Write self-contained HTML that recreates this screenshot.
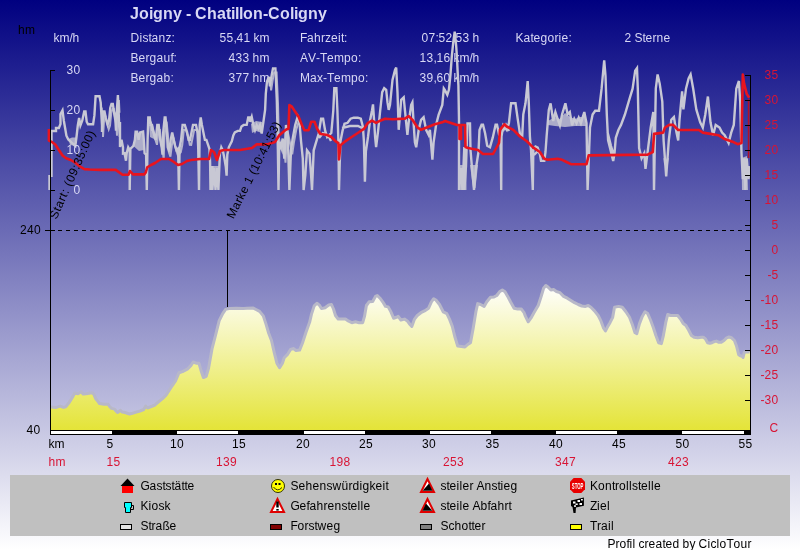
<!DOCTYPE html>
<html><head><meta charset="utf-8"><title>Joigny - Chatillon-Coligny</title>
<style>
html,body{margin:0;padding:0;width:800px;height:550px;overflow:hidden;background:#fff}
svg{display:block;will-change:transform}
text{font-family:"Liberation Sans",sans-serif;font-size:12px;font-kerning:none}
.w{fill:#d8d8f4}
.k{fill:#000}
.r{fill:#d81434}
</style></head><body>
<svg width="800" height="550" viewBox="0 0 800 550">
<defs>
<linearGradient id="bg" x1="0" y1="0" x2="0" y2="1">
<stop offset="0" stop-color="#000080"/>
<stop offset="1" stop-color="#ffffff"/>
</linearGradient>
<linearGradient id="yl" gradientUnits="userSpaceOnUse" x1="0" y1="285" x2="0" y2="430">
<stop offset="0" stop-color="#ffffff"/>
<stop offset="1" stop-color="#e4e438"/>
</linearGradient>
</defs>
<rect x="0" y="0" width="800" height="550" fill="url(#bg)"/>

<!-- header text -->
<text x="130 139 149 153 163 173 182 186 191 195 207 217 226 231 235 239 243 253 263 268 280 290 294 298 308 318" y="19" class="w" style="font-size:16px;font-weight:bold">Joigny - Chatillon-Coligny</text>
<text x="18 25" y="34" class="k">hm</text>
<text x="53.5 59.5 69.5 72.5" y="42" class="w">km/h</text>
<text x="130.5 139.5 142.5 148.5 151.5 158.5 165.5 171.5" y="42" class="w">Distanz:</text>
<text x="130.5 138.5 145.5 149.5 156.5 163.5 170.5 173.5" y="62" class="w">Bergauf:</text>
<text x="130.5 138.5 145.5 149.5 156.5 163.5 170.5" y="82" class="w">Bergab:</text>
<text x="219.5 226.5 233.5 236.5 243.5 250.5 253.5 259.5" y="42" class="w">55,41 km</text>
<text x="228.5 235.5 242.5 249.5 252.5 259.5" y="62" class="w">433 hm</text>
<text x="228.5 235.5 242.5 249.5 252.5 259.5" y="82" class="w">377 hm</text>
<text x="300 307 314 321 325 331 338 341 344" y="42" class="w">Fahrzeit:</text>
<text x="300 308 316 320 327 334 344 351 358" y="62" class="w">AV-Tempo:</text>
<text x="300 310 317 323 327 334 341 351 358 365" y="82" class="w">Max-Tempo:</text>
<text x="421.5 428.5 435.5 438.5 445.5 452.5 455.5 462.5 469.5 472.5" y="42" class="w">07:52:53 h</text>
<text x="419.5 426.5 433.5 436.5 443.5 450.5 453.5 459.5 469.5 472.5" y="62" class="w">13,16 km/h</text>
<text x="419.5 426.5 433.5 436.5 443.5 450.5 453.5 459.5 469.5 472.5" y="82" class="w">39,60 km/h</text>
<text x="515.5 523.5 530.5 533.5 540.5 547.5 554.5 558.5 561.5 568.5" y="42" class="w">Kategorie:</text>
<text x="624.5 631.5 634.5 642.5 645.5 652.5 656.5 663.5" y="42" class="w">2 Sterne</text>

<!-- CHART -->
<g id="chart">
<path d="M51,430 L51,407 51,407 56.4,407.4 60.2,406.1 63.4,407.4 65.9,406.7 69.1,402.6 72.3,397.5 74.8,393 78,393.7 81.2,391.8 83.1,394 86.3,393.7 92,392.7 93.9,394.3 95.8,398.8 98.3,401.9 99.5,403.5 104,404.25 108.1,404.25 109.6,406.5 111.5,408.4 114.5,409.1 116,411 117.5,412.5 120.5,410.25 122,412.1 125,412.5 127.25,413.25 129.5,414 132.5,413.25 136.25,412.1 140,411 143.75,409.5 145.6,406.1 147.5,408 151.25,406.5 155,405 156.5,403.5 162.5,398.7 166,395.2 170.7,388 175.5,381 179,372.7 182.5,371.6 187.3,369.2 190.8,365.6 193.2,362 196.7,363.3 199,363.3 201,370.4 203.4,377.5 206.2,376.3 208.6,368 212,349 215.6,335 219.2,320.7 222.7,313.6 225.6,309.4 229.8,308.4 236,308.3 243.3,308.6 246.9,308.3 253.3,308.1 256,309.5 259.6,311.4 263.3,315.9 266,324.1 268.7,333.2 271.5,340.5 274.2,352.3 276.9,363.2 279.6,367.7 282.4,363.2 284.2,357.7 287.8,354.1 290.5,349.5 293.3,348.6 296,350.5 299.6,350.1 302.4,343.2 306,332.3 309.6,322.3 311.5,314.1 314.2,305.9 316.9,303.2 319.6,305.4 321.5,308.6 325.1,307.7 328.7,305 331.5,304.6 333.5,309 335.5,315.5 338.2,319.1 341.8,319.1 345.5,319.1 348.2,320.9 351.8,322.7 355.5,321.8 359.1,322.7 362.7,322.7 364.5,316.4 366.4,305.5 369.1,301.8 372.7,301.5 375.5,296.4 377.3,295.5 380,298.2 382.7,301.8 385.5,306.4 388.2,306.9 390.9,311.8 393.6,318.2 396.4,317.3 398.2,316.4 400.9,320 404.5,319.1 407.3,320.9 410,324.5 411.8,326.4 414.5,319.1 417.3,315.5 420.9,312.7 424.5,310.9 428.6,308.2 431.4,301.8 433.7,298.7 435.9,300 439.5,304.5 443.2,311.8 446.8,313.6 449.5,319.1 452.3,326.4 455,337.3 457.7,346 461.4,346.4 465,346.9 467.7,344.5 470.5,342.7 473.2,328.2 475.9,311.8 477.7,303.6 480.5,304.5 484.1,306.4 486.8,301.8 490.5,297.3 494.1,296.9 496.8,295.5 499.5,291.8 502.3,290 505,291.8 507.7,296.4 510.5,301.8 514.1,308.2 517.7,309.1 521.4,309.1 524.1,312.7 525.5,316.4 528.2,321.8 530.9,318.2 534.5,311.8 538.2,305.5 540.9,297.3 543.6,288.2 545.8,285.5 548.2,287.3 550.9,290 553.6,289.6 556.4,291.5 560,292.7 563.6,296.4 567.3,298.2 570.9,300.5 574.5,302.7 578.2,304.5 581.8,306 585.5,306.4 588.2,305.5 590.9,307.3 594.5,310.9 598.2,315.5 600.9,320.9 603.6,328.2 605.5,330.9 607.3,327.3 610,322.7 612.7,317.3 614.5,307.3 618.6,306.4 622.3,307.3 625.9,311.8 629.5,317.3 632.3,324.5 635,332.7 636.8,333.6 639.5,323.6 642.3,316.4 645,311.8 647.7,313.6 650.5,320 653.2,327.3 655.9,335.5 658.6,342.7 661.4,343.6 663.2,336.4 665.9,321.8 667.7,314.5 670.5,315.5 677.7,315.5 680.5,319.1 683.2,323.6 685.9,325.5 688.6,330 691.4,335.5 694.1,337.3 697.7,337.8 701.4,337.3 703.3,337.3 705.5,338.9 707.6,342.7 709.8,343.3 712,342.7 714.2,341.6 716.4,341.1 718.5,342.2 721.3,342.2 724,340.5 726.7,337.8 728.9,337 731.6,337.8 734.4,340.5 736.5,346 738.7,354.7 740.3,355.8 742,356.3 743.1,357.4 744.2,352.5 745.8,352 749.5,352 L750,352 L750,430 Z" fill="url(#yl)"/>
<path d="M51,407 56.4,407.4 60.2,406.1 63.4,407.4 65.9,406.7 69.1,402.6 72.3,397.5 74.8,393 78,393.7 81.2,391.8 83.1,394 86.3,393.7 92,392.7 93.9,394.3 95.8,398.8 98.3,401.9 99.5,403.5 104,404.25 108.1,404.25 109.6,406.5 111.5,408.4 114.5,409.1 116,411 117.5,412.5 120.5,410.25 122,412.1 125,412.5 127.25,413.25 129.5,414 132.5,413.25 136.25,412.1 140,411 143.75,409.5 145.6,406.1 147.5,408 151.25,406.5 155,405 156.5,403.5 162.5,398.7 166,395.2 170.7,388 175.5,381 179,372.7 182.5,371.6 187.3,369.2 190.8,365.6 193.2,362 196.7,363.3 199,363.3 201,370.4 203.4,377.5 206.2,376.3 208.6,368 212,349 215.6,335 219.2,320.7 222.7,313.6 225.6,309.4 229.8,308.4 236,308.3 243.3,308.6 246.9,308.3 253.3,308.1 256,309.5 259.6,311.4 263.3,315.9 266,324.1 268.7,333.2 271.5,340.5 274.2,352.3 276.9,363.2 279.6,367.7 282.4,363.2 284.2,357.7 287.8,354.1 290.5,349.5 293.3,348.6 296,350.5 299.6,350.1 302.4,343.2 306,332.3 309.6,322.3 311.5,314.1 314.2,305.9 316.9,303.2 319.6,305.4 321.5,308.6 325.1,307.7 328.7,305 331.5,304.6 333.5,309 335.5,315.5 338.2,319.1 341.8,319.1 345.5,319.1 348.2,320.9 351.8,322.7 355.5,321.8 359.1,322.7 362.7,322.7 364.5,316.4 366.4,305.5 369.1,301.8 372.7,301.5 375.5,296.4 377.3,295.5 380,298.2 382.7,301.8 385.5,306.4 388.2,306.9 390.9,311.8 393.6,318.2 396.4,317.3 398.2,316.4 400.9,320 404.5,319.1 407.3,320.9 410,324.5 411.8,326.4 414.5,319.1 417.3,315.5 420.9,312.7 424.5,310.9 428.6,308.2 431.4,301.8 433.7,298.7 435.9,300 439.5,304.5 443.2,311.8 446.8,313.6 449.5,319.1 452.3,326.4 455,337.3 457.7,346 461.4,346.4 465,346.9 467.7,344.5 470.5,342.7 473.2,328.2 475.9,311.8 477.7,303.6 480.5,304.5 484.1,306.4 486.8,301.8 490.5,297.3 494.1,296.9 496.8,295.5 499.5,291.8 502.3,290 505,291.8 507.7,296.4 510.5,301.8 514.1,308.2 517.7,309.1 521.4,309.1 524.1,312.7 525.5,316.4 528.2,321.8 530.9,318.2 534.5,311.8 538.2,305.5 540.9,297.3 543.6,288.2 545.8,285.5 548.2,287.3 550.9,290 553.6,289.6 556.4,291.5 560,292.7 563.6,296.4 567.3,298.2 570.9,300.5 574.5,302.7 578.2,304.5 581.8,306 585.5,306.4 588.2,305.5 590.9,307.3 594.5,310.9 598.2,315.5 600.9,320.9 603.6,328.2 605.5,330.9 607.3,327.3 610,322.7 612.7,317.3 614.5,307.3 618.6,306.4 622.3,307.3 625.9,311.8 629.5,317.3 632.3,324.5 635,332.7 636.8,333.6 639.5,323.6 642.3,316.4 645,311.8 647.7,313.6 650.5,320 653.2,327.3 655.9,335.5 658.6,342.7 661.4,343.6 663.2,336.4 665.9,321.8 667.7,314.5 670.5,315.5 677.7,315.5 680.5,319.1 683.2,323.6 685.9,325.5 688.6,330 691.4,335.5 694.1,337.3 697.7,337.8 701.4,337.3 703.3,337.3 705.5,338.9 707.6,342.7 709.8,343.3 712,342.7 714.2,341.6 716.4,341.1 718.5,342.2 721.3,342.2 724,340.5 726.7,337.8 728.9,337 731.6,337.8 734.4,340.5 736.5,346 738.7,354.7 740.3,355.8 742,356.3 743.1,357.4 744.2,352.5 745.8,352 749.5,352" fill="none" stroke="#b8b8c8" stroke-width="3" stroke-linejoin="round"/>
<path d="M68.5,139 L72,137.5 76.5,137.5 76,146 70,145 Z M133.5,146 L135,134 143,132.5 144,150 139,151 Z M149,125 L153,125 156,140 150,137 Z M211.5,166 H220 V178 H211.5 Z M251,124 L256,121 262,122 262,133 256,131 252,133 Z M459.5,165 H466.5 V190 H459.5 Z M470,165 L478,165 L475.5,188 L473,188 Z M548,121 L555,117 560,119 565,113 570,117 575,119 580,117 585,117 586,126 575,126 565,127 555,126 548,125 Z M741.5,158 L747,156 748,190 742,190 Z" fill="#c8c8d4" fill-opacity="0.8"/>
<path d="M149.5,122.5 151.0,122.5 151.8,129.9 153.2,129.9 154.7,137.4 157.0,144.8 158.5,129.9 159.9,129.9 161.4,144.8 162.9,152.3 163.7,159.7 164.4,137.4 165.9,122.5 166.7,122.5 168.1,137.4 168.9,152.3 170.4,156.7 171.9,144.8 173.4,137.4 174.9,144.8 176.3,150.8 177.8,155.2 179.3,153.7 180.8,152.3 182.3,144.8 183.8,129.9 186.0,129.9 188.3,137.4 189.8,144.8 191.2,144.9 192.7,137.4 194.2,129.9 197.2,129.9 198.7,137.4 M101.7,107.6 103.0,130.5 103.0,137.0 104.3,116.5 105.5,116.5 106.8,123.0 108.7,129.3 110.0,125.5 111.3,112.7 112.5,108.9 113.8,108.9 115.1,117.8 116.4,125.5 117.0,135.6 117.6,119.0 118.9,100.0 119.5,112.7 M270.1,80.8 271.1,90.4 273.0,78.4 274.2,72.4 276.6,72.4 278.0,104.0 278.8,137.5 280.5,145.9 282.2,150.9 283.9,142.5 285.5,162.6 287.2,129.1 288.9,137.5 292.2,154.3 293.9,142.5 296.4,129.1 298.9,120.8 300.6,125.8" fill="none" stroke="#c8c8d4" stroke-width="2" stroke-opacity="0.85" stroke-linejoin="miter"/>
<path d="M49.5,190 V175 M51.5,177 V131 H56 V128 L58.9,128 60.5,124 60.5,114 62.5,110.3 63.8,120.5 65.1,128 66.4,135.7 68.3,139.5 70,141 72,143 75.3,146 76.5,137 77.8,125.5 79.1,118 80.4,125.5 82.3,120.5 84.2,111.5 85.5,111.5 86.7,121.7 88,124.3 93.1,124.3 94.4,115.4 95.6,96.3 99.5,96.3 100.7,102.6 102,125.5 102,132 103.3,111.5 104.5,111.5 105.8,118 107.7,124.3 109,120.5 110.3,107.7 111.5,103.9 112.8,103.9 114.1,112.8 115.4,120.5 116,130.6 116.6,114 117.9,95 118.5,107.7 119.2,126.8 119.8,137 120,122 120,147 121.5,139.8 123,147.3 123,153.5 124.5,153.2 126,160.7 126.7,153.2 128.2,147.3 129.7,150 129.7,190 130.4,148.7 131.9,147.3 133.4,145.8 134.9,139.8 135.6,131.6 137.1,131.6 138.6,139.8 140.1,132.4 143.1,131.6 143.8,139.8 144.6,153.2 146.1,154.7 146.8,190 147.6,139.8 148.3,117.5 149.8,117.5 150.6,124.9 152,124.9 153.5,132.4 155.8,139.8 157.3,124.9 158.7,124.9 160.2,139.8 161.7,147.3 162.5,154.7 163.2,132.4 164.7,117.5 165.5,117.5 166.9,132.4 167.7,147.3 169.2,151.7 170.7,139.8 172.2,132.4 173.7,139.8 175.1,145.8 176.6,150.2 178.1,148.7 178.9,190 179.6,147.3 181.1,139.8 182.6,124.9 184.8,124.9 187.1,132.4 188.6,139.8 190,139.9 191.5,132.4 193,124.9 196,124.9 197.5,132.4 198.2,147.3 199,190 199.7,124.9 200.7,117.5 201.9,124.9 203.4,132.4 204.9,139.9 206.4,139.9 207.9,144.3 209.4,148.8 210.1,162.2 210.5,190 212.4,166 212.4,190 214,168 215.5,190 217,168 218.4,190 219.9,153.3 221.3,147.3 222.8,150.3 224.3,157.8 225.8,166.7 226.6,175.7 227.3,154.8 228.8,147.3 230.3,144.3 231.8,141.3 233.3,135.4 234.8,132.4 237.8,130.9 240,130.9 241.5,126.4 243.7,124.9 246.7,124.9 248.2,117.5 250,117.5 250,121.8 251.7,116.8 253.4,125.1 255,130.2 256.7,125.1 258.4,128.5 260,125.1 261.7,133.5 263.4,121.8 265.1,110 265.8,93.6 267,81.6 268.9,76.8 269.9,86.4 271.8,74.4 273,68.4 275.4,68.4 276.8,100 277.6,133.5 278.5,190 279.3,141.9 281,146.9 282.7,138.5 284.3,158.6 286,125.1 287.7,133.5 289.4,190 291,150.3 292.7,138.5 295.2,125.1 297.7,116.8 299.4,121.8 301.1,141.9 302.8,158.6 303.6,190 305.3,175.4 307,150.3 309.5,153.6 311.1,175.4 312,190 313.7,150.3 316.2,141.9 318.7,133.5 321.1,118.7 323.1,118.7 325.2,130.9 327.2,137 329.3,135 331.3,133 333.3,110.5 334.3,88.1 336.4,88.1 337.4,110.5 338.4,141.1 339,190 339.8,161.5 340.5,141.1 342.5,130.9 344.5,123.8 347.6,122.8 350.6,118.7 353.7,117.7 357.8,117.7 360.8,118.7 362.9,126.8 363.9,141.1 364.9,181.8 365.9,151.3 368,137 370,120.7 372,110.5 373,104.4 374.1,120.7 375.1,137 376.1,147.2 378.1,130.9 380.2,110.5 382.2,92.2 384.2,88.1 386.2,89.9 387.5,102.4 388.7,109.9 390,104.9 392.5,79.9 395,70 396.2,67.5 397.5,92.4 398.7,129.8 401.2,99.9 403.7,97.4 404.9,109.9 407.4,134.8 408.7,122.3 411.2,104.9 412.4,102.4 413.7,124.8 414.9,142.3 416.2,147.3 418.7,129.8 421.1,119.8 423.6,117.3 426.1,129.8 428.6,134.8 429.9,129.8 432.4,159.7 433.6,142.3 436.1,124.8 438.6,114.9 442.3,104.9 443.8,88.4 444.8,89.9 447.3,94.9 448.9,89.8 450.4,75.3 451.8,56.4 453.3,41.8 454.7,31.6 455.5,38.9 456.2,46.2 456.9,56.4 457.6,70.9 458.4,85.5 459,120 459,190 461,168 462.5,190 464.3,147 464.3,190 466,166 467.5,123.4 470,123.4 470.5,150 472,168 474,190 476,168 478.5,152 479.5,130 481.6,124.8 483,124.8 485.1,133.2 487.2,145.8 490,147.2 492.8,137.4 495.6,124.8 497,124.8 499.1,134.6 500.5,136 501.2,190 501.5,136.5 503.3,125.4 506.7,129.9 508.9,123.2 511.1,103.3 515.5,103.3 517.7,118.8 520,134.3 522.2,136.5 523.3,114.3 525.5,103.3 527.7,81.1 528.8,103.3 529.9,136.5 531,149.8 532.8,190 533.3,149.8 535.5,146.5 537.7,147.6 539.9,154.3 541,160.9 544.3,160.9 545.5,152 546.6,136.5 548.8,109.9 550.6,103.3 553.2,121 555.4,112.1 557.6,118.8 559.9,125.4 562.1,114.3 565.4,103.3 567.6,114.3 569.8,112.1 572.1,125.4 574.3,118.8 576.5,123.2 578.7,117.7 580.9,123.2 584.3,112.1 586.5,123.2 587.6,190 590,127.5 592.6,114.5 595.2,110.7 599,110.7 601.6,88.7 604.2,60.3 605.5,75.8 606.8,114.5 608.1,140.4 610.7,150.7 613.2,161 614.5,153.3 615.8,137.8 618.4,130 621,124.9 624.9,114.5 628.7,101.6 632.6,88.7 635.2,70.7 637,68.1 637.8,88.7 639.1,148.1 641.6,158.4 644.2,153.3 645.5,168.8 648.1,148.1 650.7,127.5 653.3,112 654,190 655.8,88.7 657.6,74.5 659.7,83.6 662.3,101.6 663.6,140.4 666.2,176.5 668.8,140.4 671.3,119.7 673.9,117.1 676.5,132.6 678.2,140.4 679.5,119.7 682.1,91.3 683.4,109.4 686,88.7 688.6,78.4 690.6,74.5 693.2,88.7 696.3,109.4 700.2,122.3 702.8,127.5 705.3,114.5 707.9,96.5 710.5,122.3 713.1,135.2 715.7,124.9 719.5,127.5 722.1,132.6 724.7,135.2 728.6,143 731.2,132.6 733.8,124.9 736.3,88.7 738.9,81 740.2,101.6 741.5,153.3 742.8,179.1 744.1,158.4 745.4,190 746.7,158.4 748.5,179.1 749.8,166.2 M319,138 L323,133 329,137 331,141 M342,128 L350,126 358,126 362,128 M503,131 L506,125 509,131 M534,155 L538,151 541,156 M607.5,132 L611,146 614,156 M664.5,158 L666.2,172 667.8,158" fill="none" stroke="#c8c8d4" stroke-width="2.4" stroke-linejoin="miter"/>
<path d="M48.9,129 V140.5 L51.6,141.8 55.3,144.5 58.9,150 62.5,155.5 66.2,158.2 70.7,160 75.3,162.7 79.8,166.4 84.4,169.1 89.8,169.5 100,169.9 115.75,169.9 122.5,174.75 128.5,174.75 130,171 133,174.4 144.25,174.4 145.75,172.5 147.25,167.25 151,165 155,163 161,159 169,159 174,162 178,165 182,164 187,161 191,160 200,159 209,159 211,150 214,152 217,160 220,151 224,150 232,150 240,150 246,149 252,148 256.7,144.4 266.8,144.4 275.1,141.9 279.3,135.2 285.2,130.2 288.5,128.5 289.4,105 291.9,106.7 295.2,111.7 298.6,116.8 301.9,125.1 304.4,130.2 308.6,130.2 311.1,121.8 314.5,121.8 317,128.5 320,133.5 321.1,134 327.2,135 331.3,137 335.4,141.1 338.4,143.1 339,159.4 340.5,145.2 345.5,141.1 351.7,137 357.8,133 363.9,128.9 368,122.8 372,120.7 376.1,122.8 380.2,120.7 385,118.7 392.5,119.3 404.9,118.6 408.7,116.1 412.4,119.8 417.4,127.3 421.1,129.8 427.4,127.3 434.9,124.3 442.3,122.3 445,121 451,123 457,125 459.5,125 459.5,139 461,139 461,125 465,125 465.5,147 468,148 478,150 483,154 493,154 499,143 500,129.9 504.4,124.3 506.7,126.5 513.3,129.9 520,136.5 526.6,141 533.3,147.6 539.9,152 544.3,158.7 547.7,159.8 557.6,158.7 562.1,159.8 566.5,162 571,164.2 586.5,164.2 588.7,155.4 647.6,154.6 652.8,152 654.1,133.9 663.1,132.6 665,127.5 669.2,124.9 673.1,124.9 678.2,130 698.9,130 702.8,132.6 710.5,133.9 718.3,135.2 724.7,139.1 732.5,141.7 737.6,144.2 741.5,143 742.8,74.5 744.1,83.6 746.7,93.9 749.2,97.8" fill="none" stroke="#e8141e" stroke-width="2.6" stroke-linejoin="round"/>
<line x1="748.6" y1="99" x2="748.6" y2="158" stroke="#b01028" stroke-width="1.6"/>
<line x1="227.5" y1="230" x2="227.5" y2="307" stroke="#000"/>
<text transform="translate(56.5,220) rotate(-66)" class="k" style="letter-spacing:0.55px">Start: (09:35:00)</text>
<text transform="translate(233.5,219.5) rotate(-63.5)" class="k" style="letter-spacing:0.3px">Marke 1 (10:41:53)</text>
</g>


<!-- axes -->
<g id="axes">
<line x1="50.5" y1="70" x2="50.5" y2="435" stroke="#000"/>
<path d="M50 70.5H55M50 110.5H55M50 150.5H55M50 190.5H55" stroke="#000"/>
<text x="66.5 73.5" y="74" class="w">30</text>
<text x="66.5 73.5" y="114" class="w">20</text>
<text x="66.5 73.5" y="154" class="w">10</text>
<text x="73.5" y="194" class="w">0</text>
<text x="26.5 33.5" y="433.5" class="k">40</text>
<text x="20 27 34" y="234" class="k">240</text>
<line x1="50" y1="230.5" x2="750" y2="230.5" stroke="#000" stroke-dasharray="4,4"/><line x1="45" y1="230.5" x2="55" y2="230.5" stroke="#000"/>
<line x1="750.5" y1="75" x2="750.5" y2="430" stroke="#000"/>
<path d="M745 75.5H750M745 100.5H750M745 125.5H750M745 150.5H750M745 175.5H750M745 200.5H750M745 225.5H750M745 250.5H750M745 275.5H750M745 300.5H750M745 325.5H750M745 350.5H750M745 375.5H750M745 400.5H750" stroke="#000"/>
<g class="r">
<text x="764.5 771.5" y="79">35</text>
<text x="764.5 771.5" y="104">30</text>
<text x="764.5 771.5" y="129">25</text>
<text x="764.5 771.5" y="154">20</text>
<text x="764.5 771.5" y="179">15</text>
<text x="764.5 771.5" y="204">10</text>
<text x="771.5" y="229">5</text>
<text x="771.5" y="254">0</text>
<text x="767.5 771.5" y="279">-5</text>
<text x="760.5 764.5 771.5" y="304">-10</text>
<text x="760.5 764.5 771.5" y="329">-15</text>
<text x="760.5 764.5 771.5" y="354">-20</text>
<text x="760.5 764.5 771.5" y="379">-25</text>
<text x="760.5 764.5 771.5" y="404">-30</text>
<text x="769.5" y="431.5">C</text>
</g>
<!-- km bar -->
<rect x="50" y="430" width="701" height="5" fill="#000"/>
<path d="M51 432.5H112M177 432.5H238M304 432.5H365M430 432.5H491M556 432.5H617M682 432.5H744" stroke="#fff" stroke-width="3"/>
<g class="k">
<text x="48.5 54.5" y="448">km</text>
<text x="106.5" y="448">5</text>
<text x="170 177" y="448">10</text>
<text x="232 239" y="448">15</text>
<text x="296 303" y="448">20</text>
<text x="359 366" y="448">25</text>
<text x="422 429" y="448">30</text>
<text x="485.5 492.5" y="448">35</text>
<text x="549 556" y="448">40</text>
<text x="612 619" y="448">45</text>
<text x="675.5 682.5" y="448">50</text>
<text x="738.5 745.5" y="448">55</text>
</g>
<g class="r">
<text x="48.5 55.5" y="466">hm</text>
<text x="106.5 113.5" y="466">15</text>
<text x="216 223 230" y="466">139</text>
<text x="329.5 336.5 343.5" y="466">198</text>
<text x="443 450 457" y="466">253</text>
<text x="555 562 569" y="466">347</text>
<text x="668 675 682" y="466">423</text>
</g>
</g>

<!-- legend -->
<rect x="10" y="475" width="780" height="61" fill="#c0c0c0"/>
<g class="k">
<text x="140.5 149.5 156.5 162.5 165.5 171.5 174.5 181.5 184.5 187.5" y="490">Gaststätte</text>
<text x="140.5 148.5 151.5 158.5 164.5" y="510">Kiosk</text>
<text x="140.5 148.5 151.5 155.5 162.5 169.5" y="530">Straße</text>
<text x="290.5 298.5 305.5 312.5 319.5 326.5 332.5 341.5 348.5 352.5 359.5 362.5 369.5 375.5 382.5 385.5" y="490">Sehenswürdigkeit</text>
<text x="290.5 299.5 306.5 309.5 316.5 323.5 327.5 334.5 341.5 347.5 350.5 357.5 360.5 363.5" y="510">Gefahrenstelle</text>
<text x="290.5 297.5 304.5 308.5 314.5 317.5 326.5 333.5" y="530">Forstweg</text>
<text x="440.5 446.5 449.5 456.5 459.5 462.5 469.5 473.5 476.5 484.5 491.5 497.5 500.5 503.5 510.5" y="490">steiler Anstieg</text>
<text x="440.5 446.5 449.5 456.5 459.5 462.5 469.5 472.5 480.5 487.5 490.5 497.5 504.5 508.5" y="510">steile Abfahrt</text>
<text x="440.5 448.5 454.5 461.5 468.5 471.5 474.5 481.5" y="530">Schotter</text>
<text x="590 598 605 612 615 619 626 629 632 638 641 648 651 654" y="490">Kontrollstelle</text>
<text x="590 597 600 607" y="510">Ziel</text>
<text x="590 597 601 608 611" y="530">Trail</text>
<text x="607.5 615.5 619.5 626.5 629.5 632.5 635.5 638.5 644.5 648.5 655.5 662.5 665.5 672.5 679.5 682.5 689.5 695.5 698.5 707.5 710.5 716.5 719.5 726.5 733.5 740.5 747.5" y="548">Profil created by CicloTour</text>
</g>
<g id="icons">
<polygon points="120.5,486 127.5,478.5 134.5,486" fill="#000"/>
<rect x="122" y="486" width="11" height="7" fill="#ff0000"/>
<path d="M124.5,502.5H131.5V507.5H130.5V512.5H125.5V507.5H124.5Z" fill="#00ffff" stroke="#000"/>
<path d="M131.5,505.5H133.5V509.5H131" fill="none" stroke="#000"/>
<rect x="120.5" y="524.5" width="11" height="5" fill="#e4e4e4" stroke="#000"/>
<circle cx="278" cy="486" r="6.5" fill="#ffff00" stroke="#303000" stroke-width="1"/>
<rect x="275" y="483" width="2" height="2" fill="#000"/>
<rect x="278.5" y="483" width="2" height="2" fill="#000"/>
<path d="M273.5,487 Q277.5,492.5 282,487.5" fill="none" stroke="#303000" stroke-width="1"/>
<polygon points="277.5,499 271,512 284,512" fill="#fff" stroke="#e00000" stroke-width="2" stroke-linejoin="miter"/>
<rect x="276.3" y="501.5" width="2.4" height="6" fill="#000"/>
<rect x="276.3" y="509" width="2.4" height="1.6" fill="#000"/>
<rect x="270.5" y="524.5" width="11" height="5" fill="#800000" stroke="#000"/>
<polygon points="427.5,479 421,492 434,492" fill="#fff" stroke="#e00000" stroke-width="2"/>
<polygon points="422.6,490.8 429,483.5 432.5,490.8" fill="#000"/>
<polygon points="427.5,499 421,512 434,512" fill="#fff" stroke="#e00000" stroke-width="2"/>
<polygon points="422.5,510.8 426,503.5 432.4,510.8" fill="#000"/>
<rect x="420.5" y="524.5" width="11" height="5" fill="#808080" stroke="#000"/>
<polygon points="573.7,478 581.3,478 585,481.7 585,489.3 581.3,493 573.7,493 570,489.3 570,481.7" fill="#e80000"/>
<text x="571.8" y="489.3" textLength="11.6" lengthAdjust="spacingAndGlyphs" style="font-size:9.5px;font-weight:bold;fill:#fff">STOP</text>
<polygon points="571,500.5 583.9,497.5 583.9,505.8 576,507.5 575.6,513 573.5,513 572.5,507 571,506" fill="#000"/>
<rect x="573" y="501.5" width="2.5" height="2" fill="#fff"/>
<rect x="577.5" y="500" width="2.5" height="2" fill="#fff"/>
<rect x="581" y="499" width="1.8" height="1.5" fill="#fff"/>
<rect x="575.5" y="503.5" width="2.2" height="1.5" fill="#fff"/>
<rect x="579.5" y="503" width="2.5" height="2" fill="#fff"/>
<rect x="574" y="505.3" width="2" height="1.5" fill="#fff"/>
<rect x="570.5" y="524.5" width="11" height="5" fill="#ffff00" stroke="#000"/>
</g>

</svg>
</body></html>
